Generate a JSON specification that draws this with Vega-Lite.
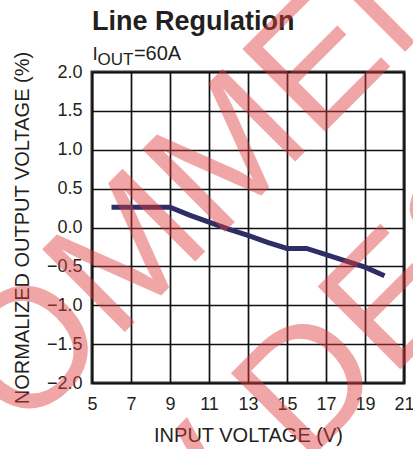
{
  "$schema": "https://vega.github.io/schema/vega-lite/v6.json",
  "autosize": {"type": "none"},
  "width": 312,
  "height": 311,
  "padding": {"left": 92, "top": 72, "right": 9, "bottom": 66},
  "background": "white",
  "config": {
    "view": {"stroke": "#333333", "strokeWidth": 3},
    "axis": {
      "grid": true,
      "gridColor": "#111111",
      "gridWidth": 1.7,
      "gridOpacity": 1,
      "domain": false,
      "ticks": false,
      "tickCount": 20,
      "labelFont": "Liberation Sans",
      "labelFontSize": 18,
      "labelColor": "#231f20",
      "labelFlush": false,
      "labelOverlap": false,
      "labelBound": false,
      "titleFont": "Liberation Sans",
      "titleFontSize": 20,
      "titleFontWeight": "normal",
      "titleColor": "#231f20"
    }
  },
  "layer": [
    {
      "data": {
        "values": [
          {"vin": 6, "pct": 0.26},
          {"vin": 7, "pct": 0.26},
          {"vin": 8, "pct": 0.26},
          {"vin": 9, "pct": 0.26},
          {"vin": 10, "pct": 0.16},
          {"vin": 11, "pct": 0.07},
          {"vin": 12, "pct": -0.02},
          {"vin": 13, "pct": -0.1},
          {"vin": 14, "pct": -0.19},
          {"vin": 15, "pct": -0.27},
          {"vin": 16, "pct": -0.27},
          {"vin": 17, "pct": -0.35},
          {"vin": 18, "pct": -0.43},
          {"vin": 19, "pct": -0.51},
          {"vin": 20, "pct": -0.62}
        ]
      },
      "mark": {"type": "line", "color": "#2e2d66", "strokeWidth": 5, "strokeCap": "butt", "strokeJoin": "miter"},
      "encoding": {
        "x": {
          "field": "vin",
          "type": "quantitative",
          "scale": {"domain": [5, 21], "nice": false, "zero": false},
          "axis": {
            "values": [5, 7, 9, 11, 13, 15, 17, 19, 21],
            "tickCount": 20,
            "format": "d",
            "labelPadding": 12,
            "title": "INPUT VOLTAGE (V)",
            "titlePadding": 12
          }
        },
        "y": {
          "field": "pct",
          "type": "quantitative",
          "scale": {"domain": [-2, 2], "nice": false, "zero": false},
          "axis": {
            "values": [-2, -1.5, -1, -0.5, 0, 0.5, 1, 1.5, 2],
            "tickCount": 20,
            "format": ".1f",
            "labelPadding": 10,
            "title": "NORMALIZED OUTPUT VOLTAGE (%)",
            "titlePadding": 14
          }
        }
      }
    },
    {
      "data": {"values": [{"label": "Line Regulation"}]},
      "mark": {"type": "text", "font": "Liberation Sans", "fontSize": 27, "fontWeight": "bold", "color": "#231f20", "align": "left", "baseline": "alphabetic"},
      "encoding": {"text": {"field": "label"}, "x": {"datum": 5.0}, "y": {"datum": 2.54}}
    },
    {
      "data": {"values": [{"label": "I"}]},
      "mark": {"type": "text", "font": "Liberation Sans", "fontSize": 19, "color": "#231f20", "align": "left", "baseline": "alphabetic"},
      "encoding": {"text": {"field": "label"}, "x": {"datum": 5.03}, "y": {"datum": 2.154}}
    },
    {
      "data": {"values": [{"label": "OUT"}]},
      "mark": {"type": "text", "font": "Liberation Sans", "fontSize": 17, "color": "#231f20", "align": "left", "baseline": "alphabetic"},
      "encoding": {"text": {"field": "label"}, "x": {"datum": 5.28}, "y": {"datum": 2.09}}
    },
    {
      "data": {"values": [{"label": "=60A"}]},
      "mark": {"type": "text", "font": "Liberation Sans", "fontSize": 20, "color": "#231f20", "align": "left", "baseline": "alphabetic"},
      "encoding": {"text": {"field": "label"}, "x": {"datum": 7.15}, "y": {"datum": 2.154}}
    },
    {
      "data": {"values": [{"wm": "NOT RECOMMENDED"}]},
      "mark": {
        "type": "text",
        "font": "Liberation Sans",
        "fontSize": 170,
        "angle": -45,
        "align": "center",
        "baseline": "alphabetic",
        "color": "#e03c3c",
        "opacity": 0.45
      },
      "encoding": {
        "text": {"field": "wm"},
        "x": {"datum": 5.887},
        "y": {"datum": -1.543}
      }
    },
    {
      "data": {"values": [{"wm": "FOR NEW DESIGNS"}]},
      "mark": {
        "type": "text",
        "font": "Liberation Sans",
        "fontSize": 170,
        "angle": -45,
        "align": "center",
        "baseline": "alphabetic",
        "color": "#e03c3c",
        "opacity": 0.45
      },
      "encoding": {
        "text": {"field": "wm"},
        "x": {"datum": 14.32},
        "y": {"datum": -3.45}
      }
    }
  ]
}
